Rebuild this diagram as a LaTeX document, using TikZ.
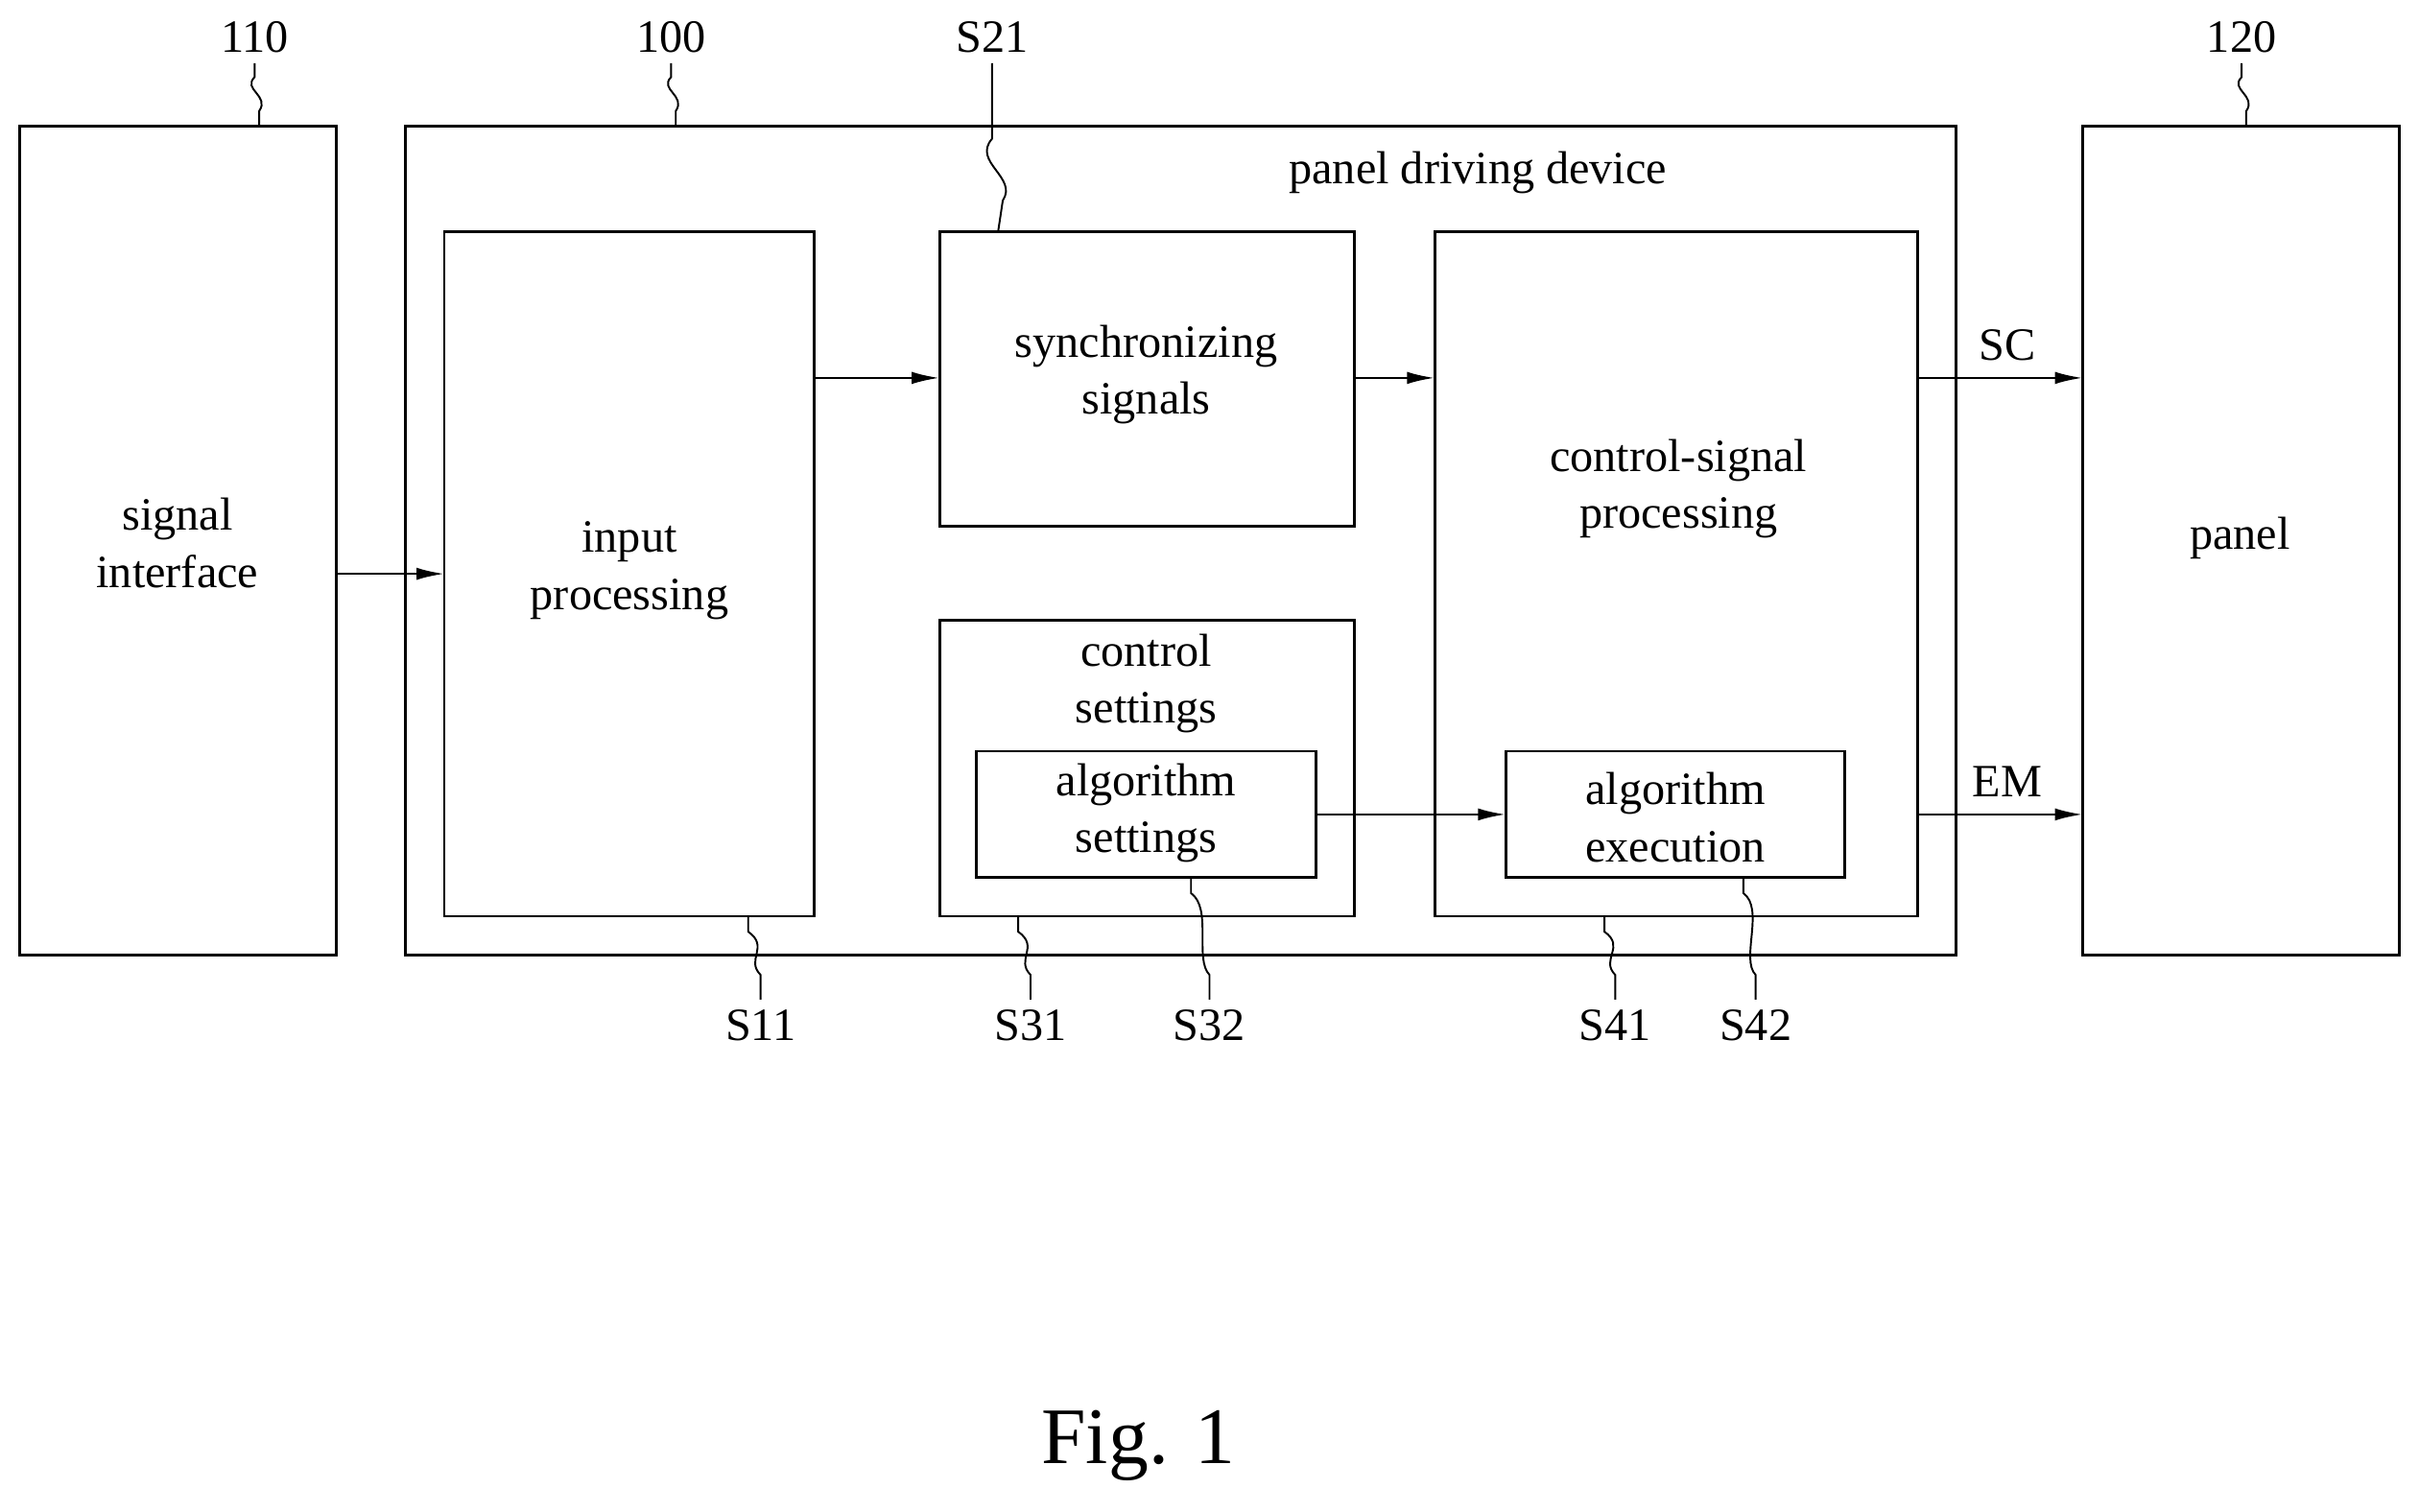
\documentclass[tikz,border=0pt]{standalone}
\usepackage{fontspec}
\setmainfont{Liberation Serif}
\usetikzlibrary{arrows.meta}
\begin{document}
\begin{tikzpicture}[x=0.5pt,y=-0.5pt,
 box/.style={draw,line width=0.9pt},
 txt/.style={font=\fontsize{15}{18.5}\selectfont,align=center},
 lbl/.style={font=\fontsize{15}{17}\selectfont},
 arr/.style={-{Latex[length=9pt,width=4pt]},line width=0.8pt},
 ld/.style={line width=0.6pt}]
\useasboundingbox (0,0) rectangle (1568,980);
\newcommand{\boxat}[5]{\draw[box] (#2,#3) rectangle (#4,#5); \coordinate (#1) at ({(#2+#4)/2},{(#3+#5)/2});}
\boxat{si}{13}{82}{218}{619}
\boxat{pd}{263}{82}{1268}{619}
\boxat{ip}{288}{150}{528}{594}
\boxat{sy}{609}{150}{878}{341}
\boxat{cs}{609}{402}{878}{594}
\boxat{as}{633}{487}{853}{569}
\boxat{cp}{930}{150}{1243}{594}
\boxat{ae}{976}{487}{1196}{569}
\boxat{pn}{1350}{82}{1555}{619}
\node[txt] (tsi) at (115,352) {signal\\interface};
\node[txt] (tpd) at (958,112) {panel driving device};
\node[txt] (tip) at (408,370) {input\\processing};
\node[txt] (tsy) at (743,243) {synchronizing\\signals};
\node[txt] (tcs) at (743,443) {control\\settings};
\node[txt] (tas) at (743,527) {algorithm\\settings};
\node[txt] (tcp) at (1088,317) {control-signal\\processing};
\node[txt] (tae) at (1086,530) {algorithm\\execution};
\node[txt] (tpn) at (1452,349) {panel};
\coordinate (a1) at (218,372); \coordinate (b1) at (288,372);
\draw[arr] (a1) -- (b1);
\coordinate (a2) at (528,245); \coordinate (b2) at (609,245);
\draw[arr] (a2) -- (b2);
\coordinate (a3) at (878,245); \coordinate (b3) at (930,245);
\draw[arr] (a3) -- (b3);
\coordinate (a4) at (853,528); \coordinate (b4) at (976,528);
\draw[arr] (a4) -- (b4);
\coordinate (a5) at (1243,245); \coordinate (b5) at (1350,245);
\draw[arr] (a5) -- (b5);
\coordinate (a6) at (1243,528); \coordinate (b6) at (1350,528);
\draw[arr] (a6) -- (b6);
\node[lbl] (lsc) at (1301,224) {SC};
\node[lbl] (lem) at (1301,507) {EM};
% top labels
\newcommand{\leaddown}[4]{\node[lbl] (#1) at (#2,24) {#4};
 \coordinate (#1e) at (#2+3,#3);
 \draw[ld] (#2,41) -- (#2,50) .. controls (#2-8,58) and (#2+10,62) .. (#2+3,72) -- (#1e);}
\leaddown{l110}{165}{82}{110}
\leaddown{l100}{435}{82}{100}
\leaddown{l120}{1453}{82}{120}
\node[lbl] (l21) at (643,24) {S21};
\coordinate (l21e) at (647,150);
\draw[ld] (643,41) -- (643,90) .. controls (630,105) and (660,115) .. (650,130) -- (l21e);
% bottom labels
\newcommand{\leadup}[5]{\node[lbl] (#1) at (#2,665) {#5};
 \coordinate (#1e) at (#3,#4);
 \draw[ld] (#1e) -- (#3,{#4+10}) .. controls (#3+14,{#4+20}) and (#2-10,622) .. (#2,632) -- (#2,648);}
\leadup{l11}{493}{485}{594}{S11}
\leadup{l31}{668}{660}{594}{S31}
\leadup{l32}{784}{772}{569}{S32}
\leadup{l41}{1047}{1040}{594}{S41}
\leadup{l42}{1138}{1130}{569}{S42}
\node[font=\fontsize{26}{30}\selectfont] (fig) at (738,937) {Fig. 1};
\end{tikzpicture}
\end{document}
